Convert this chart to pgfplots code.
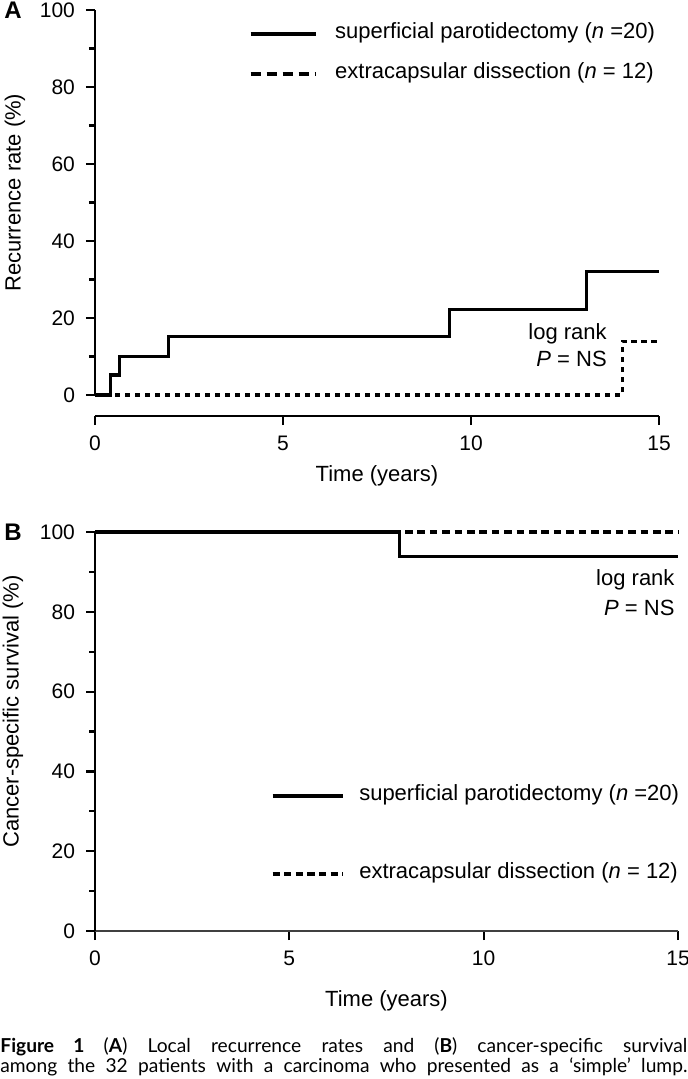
\documentclass[border=0pt]{standalone}
\usepackage{fontspec}
\setmainfont{Liberation Sans}
\newfontfamily\capfont{Lato}
\usepackage{pgfplots}
\pgfplotsset{compat=1.18}

\pgfplotsset{
  km/.style={
    scale only axis,
    anchor=south west,
    xmin=0, xmax=15,
    ymax=100,
    xtick={0,5,10,15},
    ytick={0,20,...,100},
    minor ytick={10,30,...,90},
    tick align=outside,
    major tick length=4.5pt,
    minor tick length=3pt,
    every tick/.style={black, line width=1.1pt},
    /pgf/number format/assume math mode=true,
    tick label style={font=\fontsize{10.5}{12}\selectfont},
    xticklabel style={yshift=-2pt},
    yticklabel style={xshift=-2pt},
    label style={font=\fontsize{11}{13}\selectfont},
    clip=false,
    axis x line*=bottom,
    axis y line*=left,
    x axis line style={-, line width=1.1pt},
    legend style={draw=none, fill=none, anchor=north west,
      inner sep=0pt, outer sep=0pt,
      font=\fontsize{11}{13}\selectfont,
      nodes={inner sep=0pt, text height=8pt, text depth=3pt}},
    legend cell align=left,
  },
  surv/.style={black, line width=1.6pt, const plot, forget plot},
}

\begin{document}
\begin{tikzpicture}
\useasboundingbox (0,0) rectangle (343.5pt,-539.5pt);

% panel A: local recurrence
\begin{axis}[km,
  at={(47.5pt,-208pt)},
  width=282pt, height=203pt,
  ymin=-5.45,
  y axis line style={-, line width=1.1pt, shorten <=10.5pt},
  xlabel={Time (years)},
  ylabel={Recurrence rate (\%)},
  xlabel style={at={([yshift=-30pt]axis description cs:0.5,0)}, anchor=center},
  ylabel style={at={([xshift=-40pt]axis description cs:0,0.55)}, anchor=center},
  legend style={at={(0.273,0.968)}, row sep=9pt},
  legend image code/.code={\draw[#1] (0pt,0pt) -- (32.5pt,0pt); \path (41.5pt,0pt);},
]
\addplot[surv, dash pattern=on 2.7pt off 2.3pt] coordinates {(0,0) (14.02,14) (15,14)};
\addplot[surv] coordinates {(0,0) (0.42,5.2) (0.66,10.1) (1.95,15.1) (9.42,22.2) (13.08,32.1) (15,32.1)};
\addlegendimage{black, line width=1.6pt}
\addlegendentry{superficial parotidectomy (\textit{n} =20)}
\addlegendimage{black, line width=1.6pt, dash pattern=on 5pt off 3pt}
\addlegendentry{extracapsular dissection (\textit{n} = 12)}
\node[anchor=east, align=right, inner sep=0pt, font=\fontsize{11}{13.5}\selectfont]
  at (axis cs:13.62,12.9) {log rank\\\textit{P} = NS};
\node[font=\bfseries\fontsize{12}{14}\selectfont] at ([xshift=-41pt]axis description cs:0,1) {A};
\end{axis}

% panel B: cancer-specific survival
\begin{axis}[km,
  at={(47.5pt,-465.5pt)},
  width=291.5pt, height=199.5pt,
  ymin=0,
  y axis line style={-, line width=1.1pt},
  x axis line style={-, line width=0.9pt, black!75},
  xlabel={Time (years)},
  ylabel={Cancer-specific survival (\%)},
  xlabel style={at={([yshift=-35pt]axis description cs:0.5,0)}, anchor=center},
  ylabel style={at={([xshift=-41pt]axis description cs:0,0.55)}, anchor=center},
  legend style={at={(0.302,0.366)}, row sep=28pt},
  legend image code/.code={\draw[#1] (0pt,0pt) -- (35pt,0pt); \path (42.5pt,0pt);},
]
\addplot[surv, dash pattern=on 3.8pt off 2.4pt] coordinates {(0,100) (15,100)};
\addplot[surv] coordinates {(0,100) (7.84,93.9) (15,93.9)};
\addlegendimage{black, line width=1.6pt}
\addlegendentry{superficial parotidectomy (\textit{n} =20)}
\addlegendimage{black, line width=1.6pt, dash pattern=on 3.6pt off 2.2pt}
\addlegendentry{extracapsular dissection (\textit{n} = 12)}
\node[anchor=east, align=right, inner sep=0pt, font=\fontsize{11}{15}\selectfont]
  at (axis cs:14.92,84.7) {log rank\\\textit{P} = NS};
\node[font=\bfseries\fontsize{12}{14}\selectfont] at ([xshift=-41pt]axis description cs:0,1) {B};
\end{axis}

\node[anchor=base west, inner sep=0pt] at (0pt,-526pt) {\parbox[t]{343.5pt}{\capfont\fontsize{9.6}{8.6}\selectfont\parfillskip=0pt
\textbf{Figure 1}\quad(\textbf{A}) Local recurrence rates and (\textbf{B}) cancer-specific survival\linebreak
among the 32 patients with a carcinoma who presented as a ‘simple’ lump.}};
\end{tikzpicture}
\end{document}
